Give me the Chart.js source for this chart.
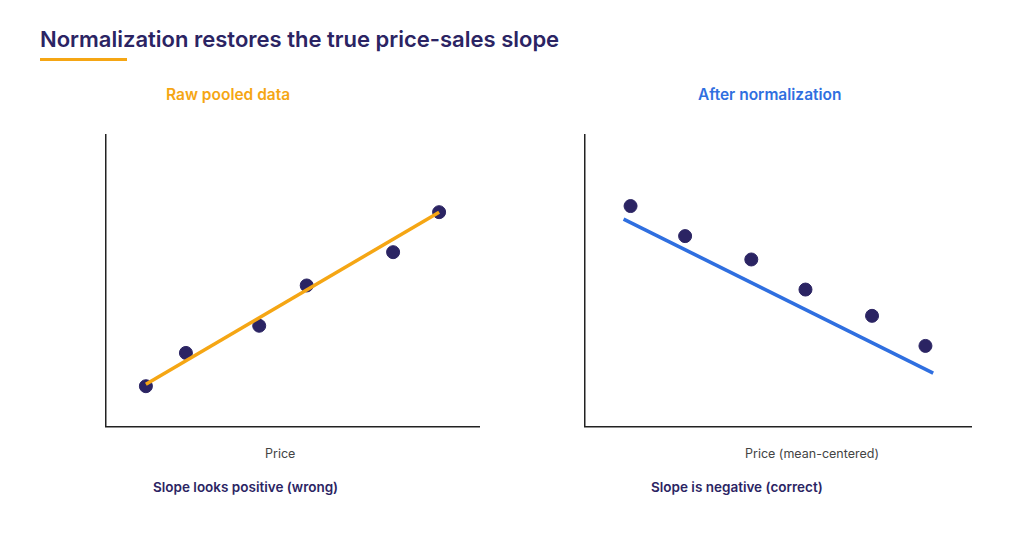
<!DOCTYPE html>
<html>
<head>
<meta charset="utf-8">
<script src="https://cdn.jsdelivr.net/npm/chart.js@4"></script>
<style>
  body { margin: 0; width: 1024px; height: 545px; background: #fff; font-family: Inter, sans-serif; position: relative; overflow: hidden; }
  .t { position: absolute; white-space: nowrap; }
  .box { position: absolute; }
</style>
</head>
<body>
<div class="t" style="left:40px;top:26px;font-size:22px;font-weight:600;color:#2b2463;">Normalization restores the true price-sales slope</div>
<div style="position:absolute;left:40px;top:58px;width:87px;height:3px;background:#f5a614;"></div>

<div class="t" style="left:166px;top:85px;font-size:15.5px;font-weight:600;color:#f5a614;">Raw pooled data</div>
<div class="t" style="left:698px;top:85px;font-size:15.5px;font-weight:600;color:#2f6fe0;">After normalization</div>

<div class="box" style="left:98px;top:127px;width:389px;height:307px;"><canvas id="rawChart"></canvas></div>
<div class="box" style="left:577px;top:127px;width:402px;height:307px;"><canvas id="normChart"></canvas></div>

<div class="t" style="left:265px;top:446px;font-size:12.5px;color:#444;">Price</div>
<div class="t" style="left:745px;top:446px;font-size:12.5px;color:#444;">Price (mean-centered)</div>

<div class="t" style="left:153px;top:479px;font-size:13.5px;font-weight:600;color:#2b2463;">Slope looks positive (wrong)</div>
<div class="t" style="left:651px;top:479px;font-size:13.5px;font-weight:600;color:#2b2463;">Slope is negative (correct)</div>

<script>
// values on a 0-100 scale for both axes
const rawX = [10.8, 21.5, 41.1, 53.8, 76.9, 89.2];
const rawY = [13.8, 25.2, 34.5, 48.3, 59.7, 73.4];
const rawFit = [{ x: 10.8, y: 14.5 }, { x: 89.2, y: 73.4 }];

const normX = [11.9, 26.0, 43.1, 57.1, 74.3, 88.1];
const normY = [75.5, 65.2, 57.2, 46.9, 37.9, 27.6];
const normFit = [{ x: 10.1, y: 71.0 }, { x: 90.1, y: 18.3 }];

const navy = '#2b2463';

function makeChart(id, xs, ys, fit, lineColor) {
    const pts = xs.map((x, i) => ({ x: x, y: ys[i] }));
    new Chart(document.getElementById(id), {
        type: 'scatter',
        data: {
            datasets: [
                { type: 'line', data: fit, borderColor: lineColor, borderWidth: 3.5, pointRadius: 0, fill: false, clip: false },
                { data: pts, backgroundColor: navy, borderColor: navy, pointRadius: 6.5, clip: false }
            ]
        },
        options: {
            responsive: true,
            maintainAspectRatio: false,
            animation: false,
            layout: { padding: 0 },
            plugins: { legend: { display: false }, tooltip: { enabled: false } },
            scales: {
                x: { type: 'linear', min: 0, max: 100, ticks: { display: false }, grid: { display: false, drawTicks: false }, border: { display: true, color: '#222', width: 1.5 } },
                y: { type: 'linear', min: 0, max: 100, ticks: { display: false }, grid: { display: false, drawTicks: false }, border: { display: true, color: '#222', width: 1.5 } }
            }
        }
    });
}

makeChart('rawChart', rawX, rawY, rawFit, '#f5a614');
makeChart('normChart', normX, normY, normFit, '#2f6fe0');
</script>
</body>
</html>
